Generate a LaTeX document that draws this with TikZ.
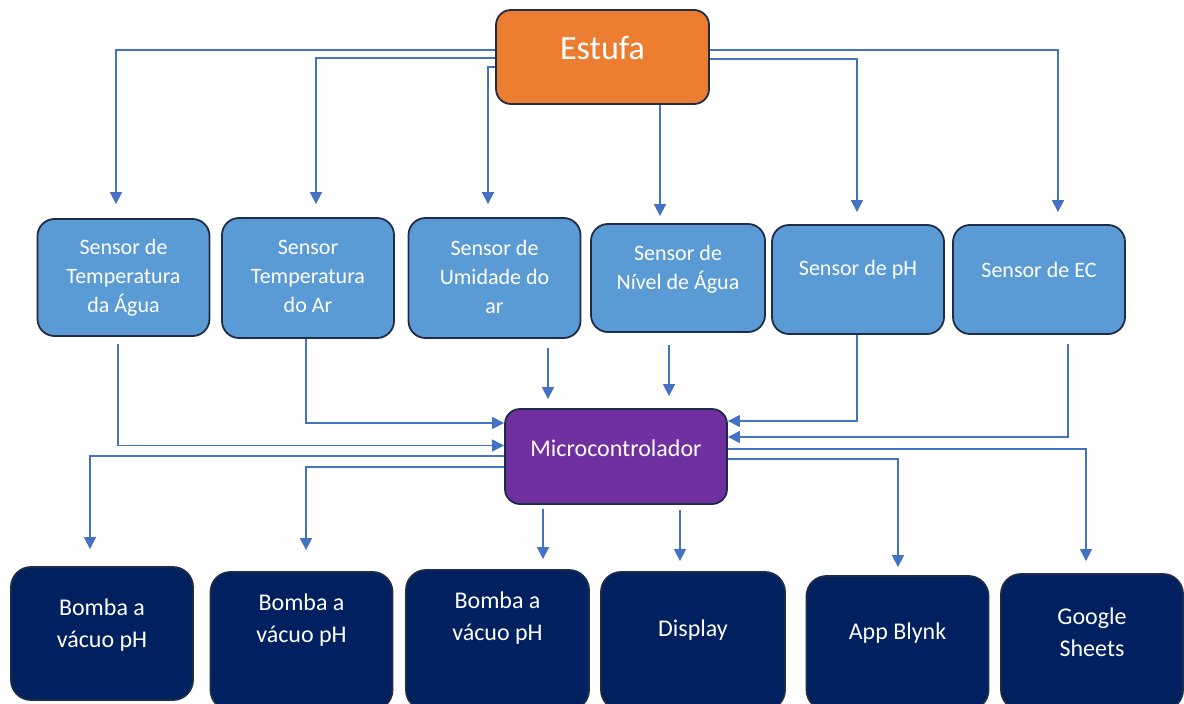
\documentclass[tikz,border=0pt]{standalone}
\usepackage{fontspec}
\setmainfont{Carlito}
\usetikzlibrary{arrows.meta}

\definecolor{estufaorange}{HTML}{ED7D31}
\definecolor{sensorblue}{HTML}{5B9BD5}
\definecolor{mcupurple}{HTML}{7030A0}
\definecolor{outnavy}{HTML}{002060}
\definecolor{edge}{HTML}{1F2C48}
\definecolor{link}{HTML}{4472C4}

\tikzset{
  box/.style={draw=edge, line width=1.8pt, inner sep=0pt},
  sensor/.style={box, fill=sensorblue, rounded corners=17pt},
  saida/.style={box, fill=outnavy, rounded corners=20pt},
  txt/.style={text=white, align=center, inner sep=0pt},
  seta/.style={draw=link, line width=1.3pt, -{Triangle[length=12pt,width=12pt]}},
}

\begin{document}
\begin{tikzpicture}[x=1pt, y=-1pt]
  \useasboundingbox (0,0) rectangle (1184,704);

  % estufa
  \node [box, fill=estufaorange, rounded corners=15pt, minimum width=213pt, minimum height=94pt] (estufa) at (602.5,57) {};
  \node [txt, font=\fontsize{34}{40}\selectfont] (estufa-t) at ([yshift=9pt]estufa.center) {Estufa};

  % sensors
  \begin{scope}[every node/.append style={minimum width=172pt}]
    \node [sensor, minimum height=117pt] (agua) at (123.5,277.5) {};
    \node [sensor, minimum height=120pt] (ar) at (308,278) {};
    \node [sensor, minimum height=120pt] (umid) at (494.5,278) {};
    \node [sensor, minimum width=174pt, minimum height=108pt] (nivel) at (678,278) {};
    \node [sensor, minimum height=109pt] (ph) at (858,279.5) {};
    \node [sensor, minimum height=109pt] (ec) at (1039,279.5) {};
  \end{scope}
  \begin{scope}[every node/.append style={txt, font=\fontsize{22}{29}\selectfont}]
    \node (agua-t) at (agua.center) {Sensor de\\Temperatura\\da Água};
    \node (ar-t) at ([yshift=1.5pt]ar.center) {Sensor\\Temperatura\\do Ar};
    \node (umid-t) at ([yshift=1.5pt]umid.center) {Sensor de\\Umidade do\\ar};
    \node (nivel-t) at ([yshift=8.5pt]nivel.center) {Sensor de\\Nível de Água};
    \node (ph-t) at ([yshift=9.5pt]ph.center) {Sensor de pH};
    \node (ec-t) at ([yshift=9.5pt]ec.center) {Sensor de EC};
  \end{scope}

  % microcontroller
  \node [box, fill=mcupurple, rounded corners=15pt, minimum width=222pt, minimum height=95pt] (mcu) at (616,456.5) {};
  \node [txt, font=\fontsize{24}{30}\selectfont] (mcu-t) at ([yshift=8.5pt]mcu.center) {Microcontrolador};

  % outputs
  \begin{scope}[every node/.append style={minimum width=182pt}]
    \node [saida, minimum height=133pt] (bomba1) at (102,633.5) {};
    \node [saida, minimum height=138pt] (bomba2) at (301.5,641) {};
    \node [saida, minimum width=183pt, minimum height=140pt] (bomba3) at (497.5,640) {};
    \node [saida, minimum width=184pt, minimum height=138pt] (display) at (693,641) {};
    \node [saida, minimum height=134pt] (blynk) at (897.5,643) {};
    \node [saida, minimum height=136pt] (sheets) at (1092,642) {};
  \end{scope}
  \begin{scope}[every node/.append style={txt, font=\fontsize{24}{32}\selectfont}]
    \node (bomba1-t) at ([yshift=8.5pt]bomba1.center) {Bomba a\\vácuo pH};
    \node (bomba2-t) at ([yshift=21pt]bomba2.center) {Bomba a\\vácuo pH};
    \node (bomba3-t) at ([yshift=21.5pt]bomba3.center) {Bomba a\\vácuo pH};
    \node (display-t) at ([yshift=11pt]display.center) {Display};
    \node (blynk-t) at ([yshift=10pt]blynk.center) {App Blynk};
    \node (sheets-t) at ([yshift=9.5pt]sheets.center) {Google\\Sheets};
  \end{scope}

  % estufa -> sensors
  \draw [seta] ([yshift=7pt]estufa.west) -| ([xshift=-7.5pt,yshift=14pt]agua.north);
  \draw [seta] ([yshift=-1pt]estufa.west) -| ([xshift=8pt,yshift=13pt]ar.north);
  \draw [seta] ([yshift=-10pt]estufa.west) -| ([xshift=-6.5pt,yshift=13pt]umid.north);
  \draw [seta] ([xshift=57.5pt]estufa.south) -- ([xshift=-18pt,yshift=7pt]nivel.north);
  \draw [seta] ([yshift=-2pt]estufa.east) -| ([xshift=-1pt,yshift=12pt]ph.north);
  \draw [seta] ([yshift=7pt]estufa.east) -| ([xshift=19pt,yshift=12pt]ec.north);

  % sensors -> microcontroller
  \draw [seta] ([xshift=-5.5pt,yshift=-7pt]agua.south) |- ([yshift=11pt]mcu.west);
  \draw [seta] ([xshift=-2pt]ar.south) |- ([yshift=33.5pt]mcu.west);
  \draw [seta] ([xshift=53.5pt,yshift=-9pt]umid.south) -- ([xshift=-68pt,yshift=9pt]mcu.north);
  \draw [seta] ([xshift=-9pt,yshift=-12pt]nivel.south) -- ([xshift=53pt,yshift=12pt]mcu.north);
  \draw [seta] ([xshift=-1pt]ph.south) |- ([yshift=35.5pt]mcu.east);
  \draw [seta] ([xshift=29pt,yshift=-9pt]ec.south) |- ([yshift=19.5pt]mcu.east);

  % microcontroller -> outputs
  \draw [seta] ([yshift=0.5pt]mcu.west) -| ([xshift=-12pt,yshift=17pt]bomba1.north);
  \draw [seta] ([yshift=-10.5pt]mcu.west) -| ([xshift=4.5pt,yshift=21pt]bomba2.north);
  \draw [seta] ([xshift=-73pt,yshift=-4pt]mcu.south) -- ([xshift=45.5pt,yshift=10pt]bomba3.north);
  \draw [seta] ([xshift=64pt,yshift=-5pt]mcu.south) -- ([xshift=-13pt,yshift=10pt]display.north);
  \draw [seta] ([yshift=-2.5pt]mcu.east) -| ([xshift=0.5pt,yshift=8pt]blynk.north);
  \draw [seta] ([yshift=7.5pt]mcu.east) -| ([xshift=-6pt,yshift=12pt]sheets.north);
\end{tikzpicture}
\end{document}
